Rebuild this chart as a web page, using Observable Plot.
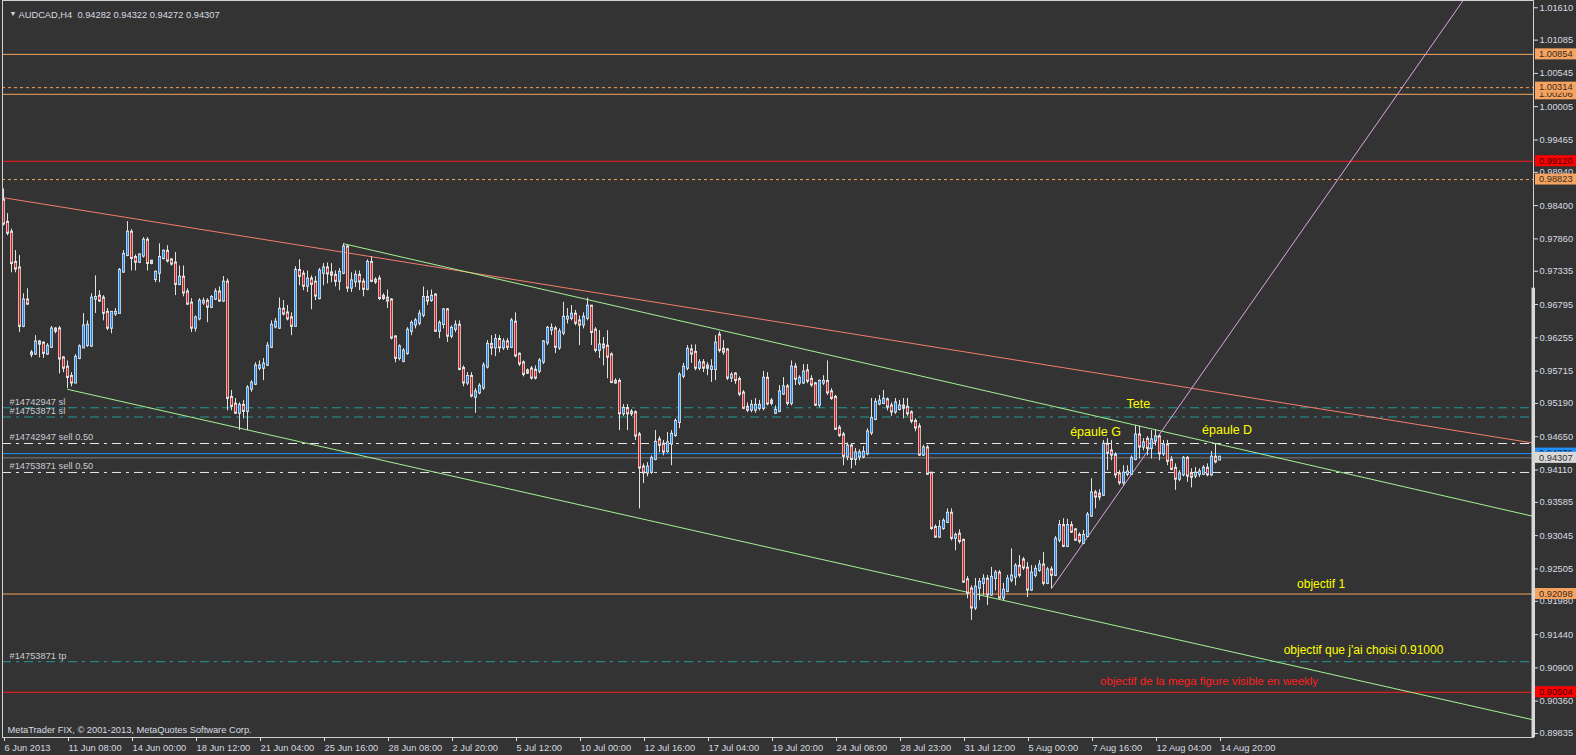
<!DOCTYPE html>
<html><head><meta charset="utf-8">
<script src="https://cdn.jsdelivr.net/npm/d3@7"></script>
<script src="https://cdn.jsdelivr.net/npm/@observablehq/plot@0.6"></script>
<style>
html,body{margin:0;padding:0;background:#333333;overflow:hidden;width:1576px;height:755px;}
#chart{width:1576px;height:755px;}
#chart svg{display:block;width:1576px !important;height:755px !important;max-width:none !important;}
</style></head><body><div id="chart"></div>
<script>
// ---- OHLC of AUDCAD H4 bars, in pips (price x 10000) ----
const OPEN=[9848,9812,9796,9747,9738,9645,9686,9600,9600,9618,
9616,9600,9611,9639,9639,9592,9577,9562,9553,9593,
9610,9614,9613,9689,9692,9689,9666,9642,9665,9666,
9733,9760,9796,9755,9749,9759,9783,9749,9721,9731,
9755,9765,9751,9746,9713,9723,9699,9681,9642,9657,
9683,9684,9676,9689,9699,9686,9715,9528,9517,9504,
9515,9507,9543,9551,9577,9577,9582,9611,9644,9642,
9671,9665,9657,9645,9734,9728,9710,9720,9715,9690,
9731,9738,9730,9726,9718,9731,9772,9707,9717,9726,
9715,9705,9747,9718,9720,9692,9689,9686,9626,9593,
9588,9601,9637,9647,9650,9663,9690,9687,9694,9637,
9648,9670,9629,9640,9645,9575,9553,9562,9530,9537,
9545,9579,9614,9610,9622,9610,9618,9611,9650,9598,
9584,9571,9574,9572,9572,9587,9618,9639,9639,9610,
9634,9657,9658,9663,9652,9647,9658,9676,9637,9606,
9613,9611,9597,9554,9554,9503,9510,9504,9503,9467,
9415,9407,9408,9429,9459,9452,9442,9454,9468,9489,
9564,9577,9605,9601,9577,9584,9579,9575,9575,9629,
9606,9605,9561,9566,9557,9535,9512,9509,9509,9512,
9512,9559,9522,9504,9507,9535,9545,9520,9577,9553,
9553,9571,9557,9550,9517,9553,9554,9537,9528,9478,
9467,9433,9449,9429,9433,9433,9438,9472,9494,9519,
9520,9524,9514,9506,9510,9514,9512,9503,9489,9480,
9436,9446,9405,9317,9303,9317,9327,9340,9301,9306,
9296,9232,9217,9188,9220,9228,9233,9209,9236,9243,
9204,9215,9233,9238,9254,9264,9251,9217,9241,9249,
9256,9228,9248,9241,9298,9320,9288,9320,9313,9304,
9293,9304,9337,9373,9371,9371,9452,9441,9434,9404,
9391,9405,9405,9429,9467,9449,9460,9447,9459,9464,
9438,9451,9426,9413,9397,9404,9429,9404,9402,9405,
9405,9413,9404,9431,9428];
const HIGH=[9867,9827,9802,9767,9759,9697,9705,9605,9629,9621,
9619,9616,9644,9642,9644,9595,9588,9569,9598,9614,
9665,9653,9697,9726,9702,9694,9673,9666,9673,9738,
9767,9814,9801,9760,9762,9788,9788,9751,9734,9778,
9768,9775,9754,9764,9742,9742,9705,9689,9661,9689,
9690,9689,9694,9705,9708,9725,9721,9540,9527,9520,
9524,9548,9556,9585,9588,9592,9618,9653,9657,9690,
9686,9678,9666,9741,9752,9734,9734,9726,9725,9738,
9746,9747,9746,9734,9738,9778,9775,9731,9734,9734,
9721,9752,9757,9723,9726,9697,9703,9689,9629,9614,
9608,9642,9653,9657,9670,9708,9702,9703,9697,9653,
9673,9673,9645,9653,9653,9580,9569,9569,9543,9551,
9585,9621,9629,9631,9629,9624,9624,9657,9666,9601,
9588,9575,9579,9580,9592,9621,9644,9648,9644,9640,
9683,9673,9678,9670,9661,9666,9690,9678,9642,9637,
9626,9637,9601,9559,9559,9517,9517,9509,9507,9472,
9421,9423,9434,9475,9465,9459,9472,9475,9494,9569,
9584,9613,9614,9614,9590,9590,9585,9590,9629,9635,
9621,9608,9569,9569,9562,9540,9520,9524,9527,9524,
9571,9569,9527,9515,9548,9561,9550,9588,9584,9564,
9582,9582,9564,9553,9557,9564,9588,9543,9532,9483,
9472,9455,9454,9446,9444,9449,9478,9527,9527,9532,
9540,9528,9520,9527,9524,9527,9527,9507,9494,9486,
9451,9451,9407,9322,9329,9332,9348,9348,9309,9314,
9299,9238,9223,9235,9235,9241,9240,9253,9248,9248,
9227,9240,9283,9259,9272,9269,9261,9256,9256,9264,
9277,9253,9254,9303,9329,9332,9331,9327,9316,9309,
9313,9342,9397,9378,9379,9459,9462,9459,9439,9410,
9418,9418,9434,9483,9482,9462,9465,9475,9476,9467,
9459,9459,9433,9421,9410,9433,9433,9413,9415,9413,
9418,9421,9441,9454,9432];
const LOW=[9807,9791,9731,9731,9634,9642,9678,9593,9597,9593,
9592,9597,9608,9632,9567,9569,9543,9546,9551,9590,
9608,9610,9610,9665,9683,9653,9637,9632,9660,9665,
9730,9757,9734,9734,9746,9755,9734,9744,9715,9715,
9752,9747,9742,9694,9710,9692,9678,9634,9635,9653,
9678,9650,9673,9686,9683,9683,9507,9507,9501,9475,
9494,9475,9537,9548,9572,9556,9579,9608,9640,9639,
9661,9653,9629,9644,9710,9702,9699,9671,9686,9687,
9710,9713,9715,9708,9702,9728,9699,9699,9707,9702,
9692,9702,9715,9712,9686,9686,9673,9622,9585,9588,
9585,9597,9629,9640,9645,9658,9678,9683,9634,9624,
9640,9618,9624,9634,9572,9546,9548,9528,9503,9533,
9540,9575,9597,9595,9601,9605,9605,9608,9593,9579,
9562,9566,9557,9557,9567,9582,9613,9629,9600,9605,
9629,9648,9653,9645,9613,9640,9653,9613,9601,9592,
9580,9559,9551,9550,9475,9498,9475,9498,9459,9348,
9389,9400,9404,9426,9439,9434,9438,9418,9464,9478,
9559,9572,9584,9572,9572,9569,9564,9553,9556,9601,
9597,9556,9553,9550,9530,9509,9504,9504,9503,9507,
9507,9515,9515,9501,9504,9532,9515,9515,9548,9548,
9550,9551,9545,9514,9512,9548,9532,9524,9475,9464,
9418,9426,9413,9418,9426,9429,9434,9467,9491,9515,
9517,9507,9498,9501,9507,9494,9498,9486,9473,9433,
9433,9402,9313,9300,9300,9313,9324,9296,9280,9291,
9227,9202,9167,9183,9199,9207,9191,9206,9215,9202,
9199,9212,9228,9223,9236,9248,9204,9214,9236,9245,
9223,9225,9218,9238,9293,9285,9285,9308,9295,9291,
9290,9301,9334,9348,9361,9368,9410,9426,9397,9386,
9386,9400,9402,9426,9429,9442,9434,9429,9450,9426,
9433,9418,9410,9378,9392,9400,9391,9382,9397,9399,
9402,9400,9400,9421,9427];
const CLOSE=[9811,9796,9747,9738,9645,9686,9681,9599,9618,9616,
9601,9611,9639,9637,9592,9577,9562,9553,9593,9610,
9644,9645,9689,9690,9686,9666,9642,9666,9666,9734,
9760,9796,9755,9749,9759,9783,9747,9747,9731,9755,
9765,9751,9746,9713,9723,9699,9681,9642,9657,9684,
9684,9676,9690,9699,9686,9715,9528,9515,9504,9515,
9507,9543,9551,9579,9579,9582,9611,9645,9650,9671,
9665,9657,9645,9734,9726,9710,9720,9713,9694,9733,
9738,9730,9728,9718,9731,9772,9707,9717,9726,9717,
9705,9747,9718,9717,9690,9690,9686,9626,9593,9610,
9603,9637,9648,9652,9663,9690,9686,9692,9637,9648,
9670,9629,9640,9645,9575,9553,9562,9532,9537,9546,
9579,9614,9610,9622,9610,9618,9611,9652,9597,9584,
9567,9569,9561,9561,9587,9618,9640,9640,9611,9634,
9658,9658,9663,9650,9647,9658,9676,9635,9606,9613,
9610,9595,9554,9553,9503,9510,9503,9503,9467,9415,
9407,9415,9429,9455,9452,9441,9454,9468,9489,9564,
9577,9606,9600,9577,9584,9577,9577,9577,9616,9606,
9603,9561,9564,9557,9535,9512,9509,9515,9515,9515,
9559,9519,9520,9507,9537,9545,9520,9577,9559,9559,
9569,9556,9550,9517,9554,9554,9537,9528,9478,9468,
9434,9449,9429,9438,9438,9439,9472,9494,9520,9522,
9525,9514,9506,9519,9514,9512,9503,9491,9480,9436,
9446,9405,9317,9303,9317,9327,9340,9301,9304,9296,
9230,9212,9188,9220,9228,9233,9209,9236,9243,9204,
9215,9233,9238,9254,9241,9253,9217,9243,9249,9256,
9228,9248,9241,9298,9320,9288,9320,9311,9298,9296,
9304,9337,9373,9368,9368,9452,9439,9436,9404,9391,
9405,9407,9429,9467,9449,9454,9447,9459,9464,9438,
9451,9426,9413,9397,9404,9429,9402,9400,9405,9407,
9413,9404,9431,9425,9431];
const PIP = 1e-4;

// ---- axes ----
const xTickBars=[0,16,32,48,64,80,96,112,128,144,160,176,192,208,224,240,256,272,288,304];
const xTickLabels=["6 Jun 2013","11 Jun 08:00","14 Jun 00:00","18 Jun 12:00","21 Jun 04:00","25 Jun 16:00","28 Jun 08:00","2 Jul 20:00","5 Jul 12:00","10 Jul 00:00","12 Jul 16:00","17 Jul 04:00","19 Jul 20:00","24 Jul 08:00","28 Jul 23:00","31 Jul 12:00","5 Aug 00:00","7 Aug 16:00","12 Aug 04:00","14 Aug 20:00"];
const yTicks=[1.01610,1.01085,1.00545,1.00005,0.99465,0.98940,0.98400,0.97860,0.97335,0.96795,0.96255,0.95715,0.95190,0.94650,0.94110,0.93585,0.93045,0.92505,0.91980,0.91440,0.90900,0.90360,0.89835];
const priceDomain=[0.89770,1.01728];
const barDomain=[-0.25,382.5];

// ---- horizontal levels ----
const orangeSolidLevels=[1.00854,1.00206,0.92098];
const orangeDashedLevels=[1.00314,0.98823];
const redLevels=[0.99120,0.90504];
const slLevels=[0.95120,0.94970];
const sellLevels=[0.94540,0.94070];
const tpLevels=[0.91000];
const askLevel=[0.94376];
const bidLevel=[0.94307];
const orderLabels=["#14742947 sl","#14753871 sl","#14742947 sell 0.50","#14753871 sell 0.50","#14753871 tp"];
const orderLabelPrices=[0.95120,0.94970,0.94540,0.94070,0.91000];

// ---- trend lines (bar index, price) ----
const trendStartBar=[0,85,16,262];
const trendStartPrice=[0.98528,0.97782,0.95419,0.92187];
const trendEndBar=[382.4,382.4,382.4,364.9];
const trendEndPrice=[0.94548,0.93359,0.90057,1.01728];

// ---- annotations ----
const patternTexts=["Tete","épaule G","épaule D"];
const patternBars=[283.7,273,305.9];
const patternPrices=[0.95189,0.94723,0.94767];
const targetTexts=["objectif 1","objectif que j'ai choisi 0.91000"];
const targetBars=[329.4,340];
const targetPrices=[0.9225,0.9118];
const megaText=["objectif de la mega figure visible en weekly"];
const megaBars=[301.4];
const megaPrices=[0.9068];

// ---- header / footer ----
const symbolName="AUDCAD,H4";
const lastOHLC=[0.94282,0.94322,0.94272,0.94307];
const copyright="MetaTrader FIX, © 2001-2013, MetaQuotes Software Corp.";

// ---- right-axis price boxes ----
const boxOrange=[1.00854,1.00206,1.00314,0.98823,0.92098];
const boxRed=[0.99120,0.90504];
const boxAsk=[0.94376];
const boxBid=[0.94307];
const axisBarTop=0.9706;

const n=Math.min(OPEN.length,HIGH.length,LOW.length,CLOSE.length);
const bars=d3.range(n).map(i=>({i,o:OPEN[i]*PIP,h:HIGH[i]*PIP,l:LOW[i]*PIP,c:CLOSE[i]*PIP}));
const trends=trendStartBar.map((b,k)=>({x1:b,y1:trendStartPrice[k],x2:trendEndBar[k],y2:trendEndPrice[k],k}));
const trendColors=["#f47c6c","#a4f294","#a4f294","#e2a2e2"];
const tickLabelMap=new Map(xTickBars.map((b,k)=>[b,xTickLabels[k]]));
const fmt=d3.format(".5f");
const FONT="'Liberation Sans', Arial, sans-serif";

const BULL="#1f86ea", BEAR="#c42222", OUTLINE="#e2e2e2";
const dashDot="9,5,3,5";

const chart=Plot.plot({
  width:1576,height:755,marginTop:0,marginLeft:2,marginRight:43,marginBottom:18,
  style:{background:"#333333",color:"#d8dce2",fontFamily:FONT,fontSize:"9.3px"},
  x:{domain:barDomain,axis:null},
  y:{domain:priceDomain,axis:null},
  marks:[
    Plot.ruleY(orangeSolidLevels,{y:d=>d,stroke:"#f4a460",strokeWidth:1}),
    Plot.ruleY(orangeDashedLevels,{y:d=>d,stroke:"#f4a460",strokeDasharray:"3,3"}),
    Plot.ruleY(redLevels,{y:d=>d,stroke:"#ff1a1a"}),
    Plot.ruleY(slLevels,{y:d=>d,stroke:"#229a9a",strokeDasharray:dashDot}),
    Plot.ruleY(tpLevels,{y:d=>d,stroke:"#229a9a",strokeDasharray:dashDot}),
    Plot.ruleY(sellLevels,{y:d=>d,stroke:"#e8e8e8",strokeDasharray:dashDot}),
    Plot.ruleY(askLevel,{y:d=>d,stroke:"#1e90ff"}),
    Plot.ruleY(bidLevel,{y:d=>d,stroke:"#7c7c7c"}),
    Plot.link(trends,{x1:"x1",y1:"y1",x2:"x2",y2:"y2",stroke:d=>trendColors[d.k],strokeWidth:1,clip:true}),
    // wicks
    Plot.ruleX(bars,{x:"i",y1:"l",y2:"h",stroke:OUTLINE,strokeWidth:1}),
    // body outline (3px) and coloured core
    Plot.ruleX(bars,{x:"i",y1:"o",y2:"c",stroke:OUTLINE,strokeWidth:3,strokeLinecap:"square"}),
    Plot.ruleX(bars,{x:"i",y1:"o",y2:"c",stroke:d=>d.c>=d.o?BULL:BEAR,strokeWidth:1.5,insetTop:0.5,insetBottom:0.5}),
    Plot.frame({stroke:"#d0d0d0"}),
    Plot.axisX({ticks:xTickBars,tickFormat:d=>tickLabelMap.get(d),tickSize:4,tickPadding:3,textAnchor:"start",dx:1,label:null,fontSize:9.3}),
    Plot.axisY({anchor:"right",ticks:yTicks,tickFormat:fmt,tickSize:4,tickPadding:2,label:null,fontSize:9.3}),
    Plot.text(orderLabels,{y:(d,k)=>orderLabelPrices[k],text:d=>d,frameAnchor:"left",dx:7,dy:-6,textAnchor:"start",fill:"#c8ccd2",fontSize:9.3}),
    Plot.text(patternTexts,{x:(d,k)=>patternBars[k],y:(d,k)=>patternPrices[k],text:d=>d,fill:"#ffff00",fontSize:12.5}),
    Plot.text(targetTexts,{x:(d,k)=>targetBars[k],y:(d,k)=>targetPrices[k],text:d=>d,fill:"#ffff00",fontSize:12}),
    Plot.text(megaText,{x:(d,k)=>megaBars[k],y:(d,k)=>megaPrices[k],text:d=>d,fill:"#ff2020",fontSize:11.5}),
    Plot.text([symbolName+"  "+lastOHLC.map(fmt).join(" ")],{frameAnchor:"top-left",dx:16,dy:11,text:d=>d,textAnchor:"start",fill:"#d8dce2",fontSize:9.3}),
    Plot.text(["▼"],{frameAnchor:"top-left",dx:7,dy:11,text:d=>d,fill:"#d8dce2",fontSize:7}),
    Plot.text([copyright],{frameAnchor:"bottom-left",dx:5,dy:-5,text:d=>d,textAnchor:"start",fill:"#d8dce2",fontSize:9.3})
  ]
});
document.getElementById("chart").appendChild(chart);

// price boxes on the right axis, placed with the chart's own scales
const ys=chart.scale("y");
const xs=chart.scale("x");
const axisX=xs.apply(barDomain[1]);
const svg=d3.select(chart);
const g=svg.append("g").attr("font-family",FONT).attr("font-size","9.3px").attr("text-anchor","start");
g.append("rect").attr("x",axisX-1.5).attr("width",3.5)
 .attr("y",ys.apply(axisBarTop)).attr("height",ys.apply(priceDomain[0])-ys.apply(axisBarTop)).attr("fill","#d8d8d8");
function box(p,bg,fg){
  const yy=ys.apply(p);
  g.append("rect").attr("x",axisX+2).attr("y",yy-5.5).attr("width",1576-axisX-2).attr("height",11).attr("fill",bg);
  g.append("text").attr("x",axisX+6).attr("y",yy).attr("dy","0.34em").attr("text-anchor","start").attr("fill",fg).text(fmt(p));
}
boxAsk.forEach(p=>box(p,"#1e90ff","#1a2a3a"));
boxBid.forEach(p=>box(p,"#d9d9d9","#303030"));
boxOrange.forEach(p=>box(p,"#f4a460","#3a2a1c"));
boxRed.forEach(p=>box(p,"#ff0000","#400000"));
</script>
</body></html>
